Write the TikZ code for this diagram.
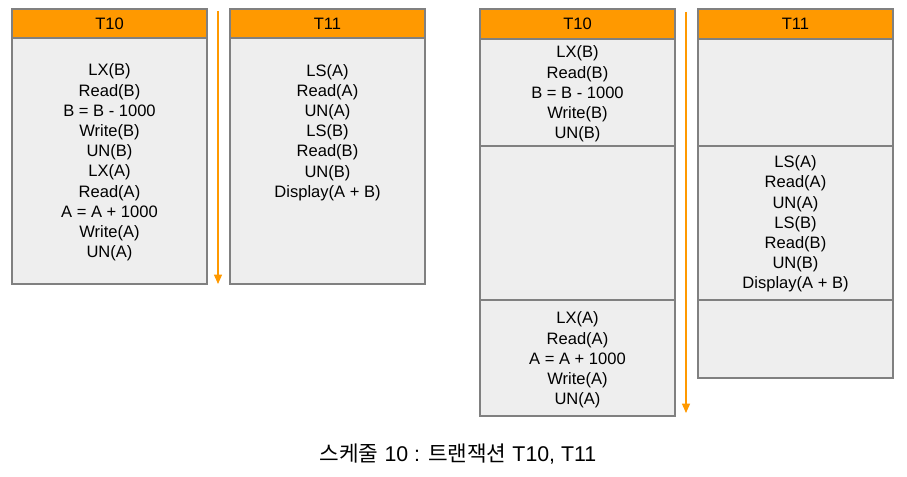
\documentclass[tikz,border=0pt]{standalone}
\usepackage{fontspec}
\setmainfont{Liberation Sans}
\newfontfamily\krfont{Noto Sans CJK KR}
\usetikzlibrary{arrows.meta}
\definecolor{hdrorange}{HTML}{FF9900}
\definecolor{bodygray}{HTML}{EEEEEE}
\definecolor{edgegray}{HTML}{808080}
\definecolor{txt}{HTML}{000000}
\tikzset{
  hdrbox/.style={draw=edgegray, fill=hdrorange, line width=1.1pt},
  bodybox/.style={draw=edgegray, fill=bodygray, line width=1.1pt},
  hdrtext/.style={font=\fontsize{12.4}{15}\selectfont, text=txt, inner sep=0pt},
  lines/.style={font=\fontsize{12.4}{15.15}\selectfont, text=txt, align=center, inner sep=0pt},
  timeline/.style={draw=hdrorange, line width=1pt, -{Triangle[width=6pt,length=7pt]}},
}
\begin{document}
\begin{tikzpicture}[x=0.75pt,y=-0.75pt]
\useasboundingbox (0,0) rectangle (907,477);
% ---------- left schedule ----------
\draw[bodybox] (12,38) rectangle (207,284);
\draw[hdrbox] (12,9) rectangle (207,38);
\node[hdrtext] (lh10) at (109.5,24) {T10};
\node[lines] (lt10) at (109.5,162.5) {LX(B)\\Read(B)\\B = B - 1000\\Write(B)\\UN(B)\\LX(A)\\Read(A)\\A = A + 1000\\Write(A)\\UN(A)};

\draw[bodybox] (230,38) rectangle (425,284);
\draw[hdrbox] (230,9) rectangle (425,38);
\node[hdrtext] (lh11) at (327.5,24) {T11};
\node[lines] (lt11) at (327.5,132.5) {LS(A)\\Read(A)\\UN(A)\\LS(B)\\Read(B)\\UN(B)\\Display(A + B)};

\coordinate (la1) at (218,11);
\coordinate (la2) at (218,284);
\draw[timeline] (la1) -- (la2);

% ---------- right schedule ----------
\draw[bodybox] (480,39) rectangle (675,146);
\draw[bodybox] (480,146) rectangle (675,300);
\draw[bodybox] (480,300) rectangle (675,416);
\draw[hdrbox] (480,9) rectangle (675,39);
\node[hdrtext] (rh10) at (577.5,24) {T10};
\node[lines] (rt10a) at (577.5,94) {LX(B)\\Read(B)\\B = B - 1000\\Write(B)\\UN(B)};
\node[lines] (rt10b) at (577.5,360) {LX(A)\\Read(A)\\A = A + 1000\\Write(A)\\UN(A)};

\draw[bodybox] (698,39) rectangle (893,146);
\draw[bodybox] (698,146) rectangle (893,300);
\draw[bodybox] (698,300) rectangle (893,378);
\draw[hdrbox] (698,9) rectangle (893,39);
\node[hdrtext] (rh11) at (795.5,24) {T11};
\node[lines] (rt11) at (795.5,224) {LS(A)\\Read(A)\\UN(A)\\LS(B)\\Read(B)\\UN(B)\\Display(A + B)};

\coordinate (ra1) at (686,12);
\coordinate (ra2) at (686,413);
\draw[timeline] (ra1) -- (ra2);

% ---------- caption ----------
\node[font=\fontsize{16}{18}\selectfont, text=txt, inner sep=0pt] (cap) at (458,454) {{\krfont 스케줄} 10 : {\krfont 트랜잭션} T10, T11};
\end{tikzpicture}
\end{document}
